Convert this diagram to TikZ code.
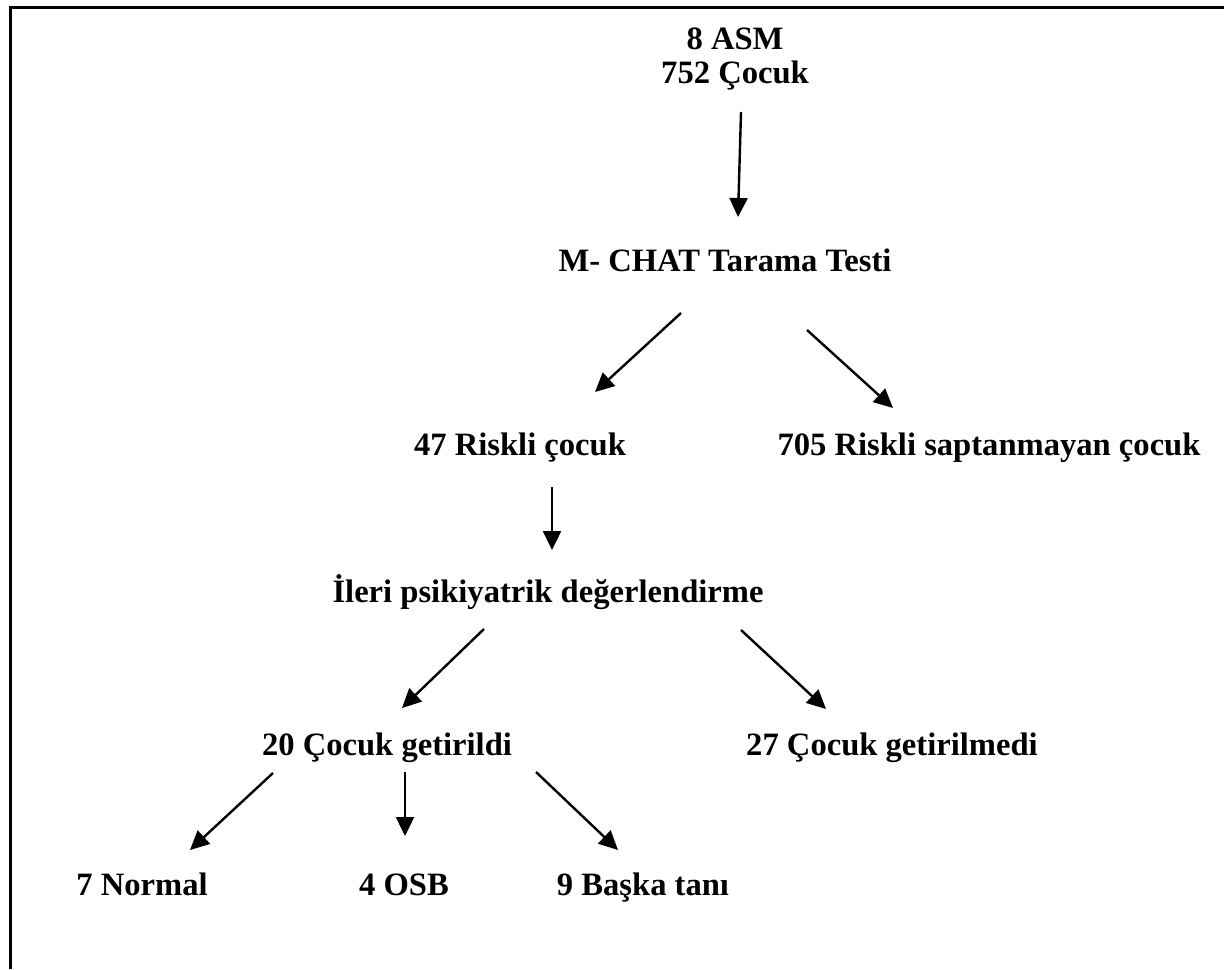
\documentclass[tikz,border=0pt]{standalone}
\usepackage{fontspec}
\setmainfont{Liberation Serif}
\usetikzlibrary{arrows.meta, positioning}

\begin{document}
\begin{tikzpicture}[
    x=0.5pt, y=-0.5pt,
    lbl/.style={anchor=base, inner sep=0pt, align=center,
                font=\fontsize{16.3}{17}\selectfont\bfseries},
    arr/.style={-{Triangle[length=9.5pt, width=9pt]}, line width=1.2pt, draw=black},
    frame/.style={line width=1.3pt, draw=black}
]
\useasboundingbox (0,0) rectangle (1224,969);
\draw[frame] (10.7,969) -- (10.7,7.3) -- (1224,7.3);

% levels of the flow chart
\node[lbl] (asm) at (735,83) {8 ASM\\752 Çocuk};
\node[lbl] (mchat) at (725,271) {M- CHAT Tarama Testi};
\node[lbl] (risk) at (520,455) {47 Riskli çocuk};
\node[lbl] (norisk) at (989,455) {705 Riskli saptanmayan çocuk};
\node[lbl] (ileri) at (548,602) {İleri psikiyatrik değerlendirme};
\node[lbl] (came) at (387,755) {20 Çocuk getirildi};
\node[lbl] (notcame) at (892,755) {27 Çocuk getirilmedi};
\node[lbl] (normal) at (142,895) {7 Normal};
\node[lbl] (osb) at (404,895) {4 OSB};
\node[lbl] (other) at (643,895) {9 Başka tanı};

\draw[arr] ([shift={(6,29)}]asm.base) -- ([shift={(13,-54)}]mchat.base);
\draw[arr] ([shift={(-44,42)}]mchat.base) -- ([shift={(75,-63)}]risk.base);
\draw[arr] ([shift={(82,59)}]mchat.base) -- ([shift={(-96,-47)}]norisk.base);
\draw[arr] ([shift={(32,32)}]risk.base) -- ([shift={(4,-52)}]ileri.base);
\draw[arr] ([shift={(-64,27)}]ileri.base) -- ([shift={(15,-47)}]came.base);
\draw[arr] ([shift={(193,28)}]ileri.base) -- ([shift={(-66,-46)}]notcame.base);
\draw[arr] ([shift={(-114,18)}]came.base) -- ([shift={(48,-45)}]normal.base);
\draw[arr] ([shift={(18,17)}]came.base) -- ([shift={(1,-59)}]osb.base);
\draw[arr] ([shift={(149,17)}]came.base) -- ([shift={(-25,-45)}]other.base);
\end{tikzpicture}
\end{document}
